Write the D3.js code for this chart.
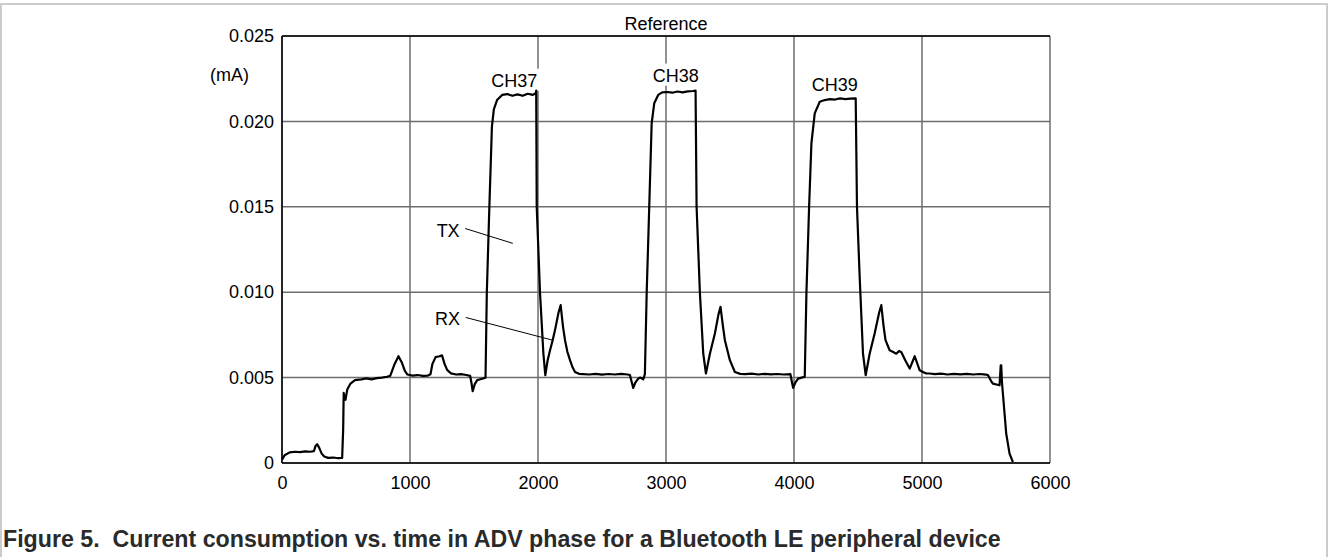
<!DOCTYPE html>
<html><head><meta charset="utf-8">
<script src="https://cdn.jsdelivr.net/npm/d3@7"></script>
<style>
html,body{margin:0;padding:0;background:#fff;}
svg{display:block;font-family:"Liberation Sans",Arial,sans-serif;}
</style></head>
<body>
<svg id="chart" width="1328" height="557"></svg>
<script>
// ---- data ----
const timeValues = [0,20,60,100,140,180,220,250,262,275,290,310,330,360,400,440,470,478,482,490,496,510,535,570,620,660,700,740,780,820,845,860,880,910,935,960,980,1020,1060,1100,1140,1160,1175,1200,1230,1250,1270,1290,1320,1360,1400,1440,1470,1480,1490,1505,1525,1570,1590,1600,1620,1640,1655,1680,1720,1760,1800,1840,1880,1920,1960,1982,1986,1990,2016,2042,2057,2075,2094,2115,2133,2160,2177,2195,2211,2230,2250,2270,2289,2320,2354,2400,2450,2500,2550,2600,2650,2700,2718,2730,2744,2760,2783,2800,2822,2835,2849,2869,2888,2908,2939,2970,3010,3050,3090,3130,3170,3210,3231,3239,3265,3291,3312,3343,3382,3410,3426,3445,3460,3499,3538,3580,3620,3670,3720,3770,3820,3870,3920,3972,3985,3993,4010,4032,4060,4084,4097,4118,4136,4162,4201,4240,4280,4320,4360,4400,4440,4482,4492,4513,4539,4560,4591,4630,4665,4682,4700,4715,4747,4775,4799,4820,4838,4870,4904,4943,4982,5007,5034,5060,5100,5150,5200,5250,5300,5350,5400,5450,5500,5515,5540,5554,5590,5606,5615,5619,5625,5645,5658,5684,5710];
const currentValues = [0.00020,0.00045,0.00062,0.00066,0.00064,0.00068,0.00066,0.00070,0.00100,0.00110,0.00090,0.00055,0.00038,0.00030,0.00032,0.00028,0.00030,0.00200,0.00410,0.00380,0.00370,0.00430,0.00465,0.00485,0.00490,0.00495,0.00490,0.00497,0.00500,0.00505,0.00510,0.00540,0.00580,0.00625,0.00590,0.00540,0.00518,0.00512,0.00515,0.00510,0.00512,0.00520,0.00580,0.00620,0.00625,0.00630,0.00580,0.00545,0.00525,0.00518,0.00520,0.00515,0.00510,0.00470,0.00420,0.00460,0.00485,0.00495,0.00500,0.00993,0.01500,0.01970,0.02070,0.02125,0.02155,0.02160,0.02150,0.02158,0.02150,0.02162,0.02155,0.02165,0.02180,0.01500,0.00993,0.00641,0.00514,0.00600,0.00660,0.00720,0.00778,0.00880,0.00924,0.00800,0.00719,0.00650,0.00602,0.00560,0.00533,0.00522,0.00520,0.00518,0.00522,0.00517,0.00521,0.00518,0.00522,0.00518,0.00515,0.00480,0.00440,0.00470,0.00494,0.00500,0.00490,0.00520,0.00993,0.01500,0.01989,0.02106,0.02155,0.02170,0.02172,0.02168,0.02175,0.02170,0.02176,0.02178,0.02180,0.01500,0.00993,0.00640,0.00524,0.00640,0.00758,0.00870,0.00914,0.00800,0.00719,0.00602,0.00533,0.00522,0.00520,0.00523,0.00518,0.00522,0.00519,0.00521,0.00518,0.00520,0.00470,0.00440,0.00470,0.00494,0.00500,0.00505,0.00993,0.01500,0.01871,0.02047,0.02115,0.02125,0.02130,0.02128,0.02135,0.02130,0.02133,0.02135,0.01500,0.01090,0.00640,0.00514,0.00640,0.00758,0.00880,0.00924,0.00800,0.00719,0.00660,0.00650,0.00640,0.00655,0.00650,0.00600,0.00553,0.00625,0.00543,0.00533,0.00524,0.00524,0.00520,0.00523,0.00518,0.00522,0.00519,0.00522,0.00518,0.00521,0.00517,0.00515,0.00480,0.00465,0.00458,0.00455,0.00572,0.00572,0.00470,0.00290,0.00172,0.00055,0.00006];
const xTickValues = [0,1000,2000,3000,4000,5000,6000];
const xTickLabels = ["0","1000","2000","3000","4000","5000","6000"];
const yTickValues = [0,0.005,0.010,0.015,0.020,0.025];
const yTickLabels = ["0","0.005","0.010","0.015","0.020","0.025"];
const channelLabels = ["CH37","CH38","CH39"];
const channelTimes = [1815,3076,4318];
const channelCurrents = [0.02203,0.02233,0.02180];
const phaseLabels = ["TX","RX"];
const phaseTimes = [1298,1294];
const phaseCurrents = [0.01322,0.00807];
const leaderStartTimes = [1431,1436];
const leaderStartCurrents = [0.01373,0.00852];
const leaderEndTimes = [1803,2115];
const leaderEndCurrents = [0.01286,0.00719];
const chartTitle = "Reference";
const unitLabel = "(mA)";
const caption = "Figure 5.  Current consumption vs. time in ADV phase for a Bluetooth LE peripheral device";

// ---- drawing ----
const svg = d3.select("#chart");
const L = 282, R = 1050, T = 36, B = 463;
const x = d3.scaleLinear().domain([0,6000]).range([L,R]);
const y = d3.scaleLinear().domain([0,0.025]).range([B,T]);

// outer frame
svg.append("rect").attr("x",1).attr("y",4).attr("width",1326).attr("height",620)
  .attr("fill","none").attr("stroke","#cccccc").attr("stroke-width",2);

// grid
const grid = svg.append("g");
grid.selectAll(".vg").data(xTickValues).join("line")
  .attr("x1",d=>x(d)).attr("x2",d=>x(d)).attr("y1",T).attr("y2",B)
  .attr("stroke","#6e6e6e").attr("stroke-width",1.5);
grid.selectAll(".hg").data(yTickValues).join("line")
  .attr("x1",L).attr("x2",R).attr("y1",d=>y(d)).attr("y2",d=>y(d))
  .attr("stroke","#6e6e6e").attr("stroke-width",1.5);
// frame
svg.append("line").attr("x1",L).attr("x2",R).attr("y1",T).attr("y2",T).attr("stroke","#000").attr("stroke-width",1.5);
svg.append("line").attr("x1",L).attr("x2",R).attr("y1",B).attr("y2",B).attr("stroke","#000").attr("stroke-width",1.5);
svg.append("line").attr("x1",L).attr("x2",L).attr("y1",T).attr("y2",B).attr("stroke","#000").attr("stroke-width",1.5);

// axes
const xAxis = d3.axisBottom(x).tickValues(xTickValues).tickSize(0).tickPadding(0)
  .tickFormat((d,i)=>xTickLabels[i]);
const gx = svg.append("g").attr("transform",`translate(0,${B})`).call(xAxis);
gx.select(".domain").remove();
gx.selectAll("text").attr("font-size",18).attr("fill","#000").attr("dy",null).attr("y",26)
  .attr("font-family","'Liberation Sans',Arial,sans-serif");
const yAxis = d3.axisLeft(y).tickValues(yTickValues).tickSize(0).tickPadding(8)
  .tickFormat((d,i)=>yTickLabels[i]);
const gy = svg.append("g").attr("transform",`translate(${L},0)`).call(yAxis);
gy.select(".domain").remove();
gy.selectAll("text").attr("font-size",18).attr("fill","#000")
  .attr("font-family","'Liberation Sans',Arial,sans-serif");

// title & unit
svg.append("text").attr("x",(L+R)/2).attr("y",30).attr("text-anchor","middle")
  .attr("font-size",18).text(chartTitle);
svg.append("text").attr("x",210).attr("y",81).attr("font-size",18).text(unitLabel);

// channel labels with white background
channelLabels.forEach((lab,i)=>{
  const cx = x(channelTimes[i]), cy = y(channelCurrents[i]);
  svg.append("rect").attr("x",cx-26).attr("y",cy-18).attr("width",52).attr("height",22).attr("fill","#fff");
  svg.append("text").attr("x",cx).attr("y",cy).attr("text-anchor","middle").attr("font-size",18).text(lab);
});

// data line
const pts = timeValues.map((t,i)=>[t,currentValues[i]]);
svg.append("path").datum(pts)
  .attr("d", d3.line().x(d=>x(d[0])).y(d=>y(d[1])))
  .attr("fill","none").attr("stroke","#000").attr("stroke-width",2.2).attr("stroke-linejoin","round");

// TX / RX labels with leaders
phaseLabels.forEach((lab,i)=>{
  svg.append("text").attr("x",x(phaseTimes[i])).attr("y",y(phaseCurrents[i]))
    .attr("text-anchor","middle").attr("font-size",18).text(lab);
  svg.append("line")
    .attr("x1",x(leaderStartTimes[i])).attr("y1",y(leaderStartCurrents[i]))
    .attr("x2",x(leaderEndTimes[i])).attr("y2",y(leaderEndCurrents[i]))
    .attr("stroke","#000").attr("stroke-width",1);
});

// caption
svg.append("text").attr("x",3).attr("y",547).attr("font-size",23.2).attr("font-weight","bold")
  .attr("fill","#2a2a2a").style("white-space","pre").attr("xml:space","preserve").text(caption);
</script>
</body></html>
